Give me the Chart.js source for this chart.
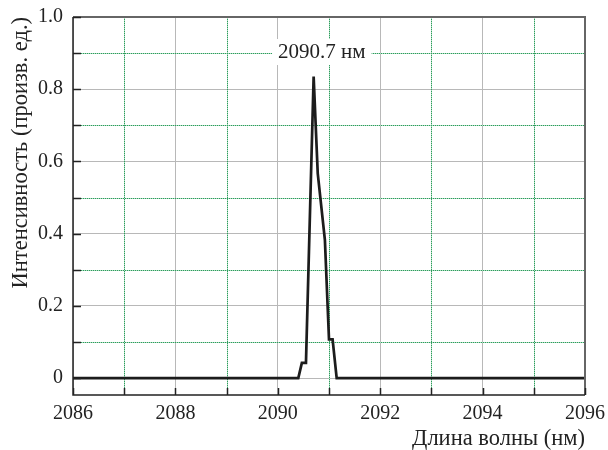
<!DOCTYPE html>
<html>
<head>
<meta charset="utf-8">
<script src="https://cdn.jsdelivr.net/npm/chart.js@4/dist/chart.umd.min.js"></script>
<style>
  html, body { margin: 0; background: #fff; }
</style>
</head>
<body>
<canvas id="c" width="608" height="450"></canvas>
<script>
/* ── Data ── */
const wavelength = [2086, 2090.40, 2090.47, 2090.55, 2090.70, 2090.78, 2090.92, 2091.00, 2091.07, 2091.15, 2096];
const intensity  = [0,    0,       0.042,   0.042,   0.835,   0.567,   0.382,   0.107,   0.107,   0,       0];

const xRange = [2086, 2096];
const yRange = [-0.047, 1.0];
const peakLabel = '2090.7 нм';
const peakLabelAt = { x: 2090.86, y: 0.903 };

const xTitle = 'Длина волны (нм)';
const yTitle = 'Интенсивность (произв. ед.)';

/* ── Style ── */
const FONT   = '"Liberation Serif", "DejaVu Serif", serif';
const INK    = '#222';
const MAJOR  = '#b8b8b8';
const MINOR  = '#2e9a5e';
const MINOR_LIGHT = '#a9dcbc';

const isMajorX = v => Math.round(v) % 2 === 0;
const isMajorY = v => Math.round(v * 10) % 2 === 0;

/* dotted minor grid */
const minorGrid = {
    id: 'minorGrid',
    beforeDatasetsDraw(chart) {
        const { ctx, chartArea: a, scales: { x, y } } = chart;
        const path = () => {
            ctx.beginPath();
            x.ticks.filter(t => !isMajorX(t.value)).forEach(t => {
                const px = Math.round(x.getPixelForValue(t.value)) + 0.5;
                ctx.moveTo(px, a.top); ctx.lineTo(px, a.bottom);
            });
            y.ticks.filter(t => !isMajorY(t.value)).forEach(t => {
                const py = Math.round(y.getPixelForValue(t.value)) + 0.5;
                ctx.moveTo(a.left, py); ctx.lineTo(a.right, py);
            });
        };
        ctx.save();
        ctx.lineWidth = 1;
        ctx.strokeStyle = MINOR_LIGHT;
        path(); ctx.stroke();
        ctx.strokeStyle = MINOR;
        ctx.setLineDash([1, 1]);
        path(); ctx.stroke();
        ctx.restore();
    }
};

/* frame, inward ticks, peak label */
const decor = {
    id: 'decor',
    afterDatasetsDraw(chart) {
        const { ctx, chartArea: a, scales: { x, y } } = chart;
        ctx.save();
        ctx.strokeStyle = '#666';
        ctx.lineWidth = 2;
        ctx.beginPath();
        ctx.moveTo(a.left, a.top); ctx.lineTo(a.right, a.top); ctx.lineTo(a.right, a.bottom);
        ctx.stroke();

        ctx.strokeStyle = INK;
        ctx.lineWidth = 1.5;
        ctx.beginPath();
        ctx.moveTo(a.left, a.top); ctx.lineTo(a.left, a.bottom); ctx.lineTo(a.right, a.bottom);
        y.ticks.forEach(t => {
            const py = Math.round(y.getPixelForValue(t.value)) + 0.5;
            ctx.moveTo(a.left, py); ctx.lineTo(a.left + 8, py);
        });
        x.ticks.forEach(t => {
            const px = Math.round(x.getPixelForValue(t.value)) + 0.5;
            ctx.moveTo(px, a.bottom); ctx.lineTo(px, a.bottom - 7);
        });
        ctx.stroke();

        ctx.font = '21px ' + FONT;
        ctx.textAlign = 'center';
        ctx.textBaseline = 'middle';
        const lx = x.getPixelForValue(peakLabelAt.x);
        const ly = y.getPixelForValue(peakLabelAt.y);
        const w = ctx.measureText(peakLabel).width;
        ctx.fillStyle = '#fff';
        ctx.fillRect(lx - w / 2 - 6, ly - 13, w + 12, 26);
        ctx.fillStyle = INK;
        ctx.fillText(peakLabel, lx, ly);
        ctx.restore();
    }
};

new Chart(document.getElementById('c'), {
    type: 'line',
    data: {
        datasets: [{
            data: wavelength.map((w, i) => ({ x: w, y: intensity[i] })),
            borderColor: '#1c1c1c',
            borderWidth: 2.7,
            pointRadius: 0,
            tension: 0,
        }],
    },
    options: {
        responsive: false,
        animation: false,
        devicePixelRatio: 1,
        layout: { padding: { top: 17, right: 23, left: 0, bottom: 0 } },
        plugins: { legend: { display: false }, tooltip: { enabled: false } },
        scales: {
            x: {
                type: 'linear',
                min: xRange[0], max: xRange[1],
                afterFit: s => { s.height = 55; s.paddingRight = 5; s.paddingLeft = 5; },
                ticks: {
                    stepSize: 1, autoSkip: false, maxRotation: 0, includeBounds: false,
                    padding: 7, color: INK, font: { family: FONT, size: 20 },
                    callback: v => isMajorX(v) ? String(Math.round(v)) : '',
                },
                grid: {
                    drawTicks: false, lineWidth: 1,
                    color: c => (c.tick && isMajorX(c.tick.value)) ? MAJOR : 'rgba(0,0,0,0)',
                },
                border: { display: false },
                title: {
                    display: true, text: xTitle, align: 'end', color: INK,
                    font: { family: FONT, size: 22.5, lineHeight: 1.0 }, padding: { top: 0, bottom: 0 },
                },
            },
            y: {
                type: 'linear',
                min: yRange[0], max: yRange[1],
                afterFit: s => { s.width = 73; s.paddingTop = 5; s.paddingBottom = 5; },
                ticks: {
                    stepSize: 0.1, autoSkip: false, includeBounds: false,
                    padding: 10, color: INK, font: { family: FONT, size: 20 },
                    callback: v => {
                        const k = Math.round(v * 10);
                        if (k % 2 !== 0) return '';
                        return k === 0 ? '0' : (k / 10).toFixed(1);
                    },
                },
                grid: {
                    drawTicks: false, lineWidth: 1,
                    color: c => (c.tick && isMajorY(c.tick.value)) ? MAJOR : 'rgba(0,0,0,0)',
                },
                border: { display: false },
                title: {
                    display: true, text: yTitle, align: 'end', color: INK,
                    font: { family: FONT, size: 22.5 }, padding: { top: 8, bottom: 0 },
                },
            },
        },
    },
    plugins: [minorGrid, decor],
});
</script>
</body>
</html>
